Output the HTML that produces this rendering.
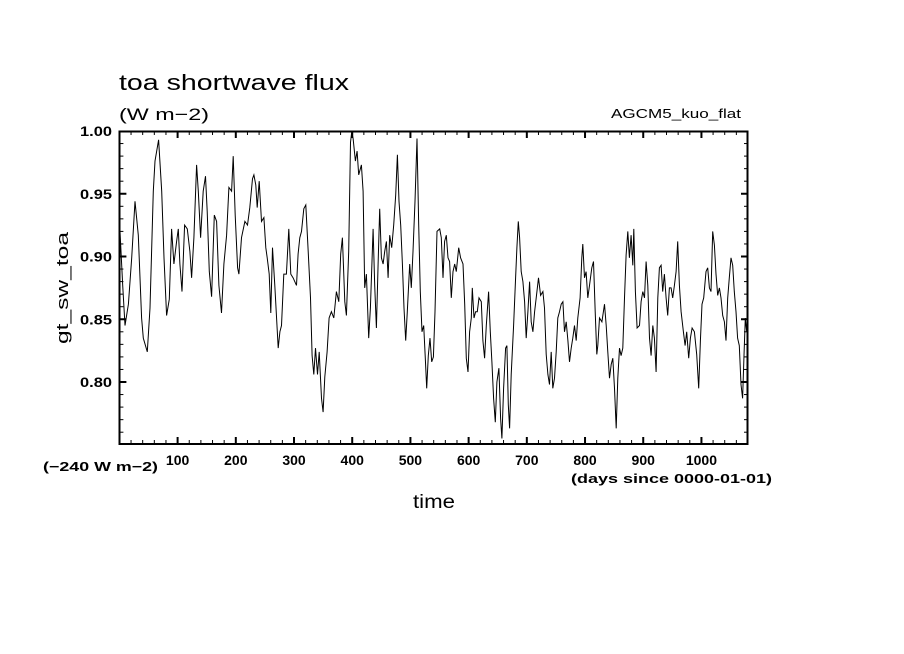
<!DOCTYPE html>
<html><head><meta charset="utf-8"><style>
html,body{margin:0;padding:0;background:#fff;}
svg{display:block;font-family:"Liberation Sans",sans-serif;}
</style></head><body>
<svg id="chart" width="904" height="654" viewBox="0 0 904 654" xmlns="http://www.w3.org/2000/svg">
<rect x="0" y="0" width="904" height="654" fill="#fff"/>
<text x="119" y="90" font-size="22" fill="#000" textLength="230" lengthAdjust="spacingAndGlyphs">toa shortwave flux</text>
<text x="119" y="120" font-size="17" fill="#000" textLength="90" lengthAdjust="spacingAndGlyphs">(W m−2)</text>
<text x="611" y="118" font-size="13" fill="#000" textLength="130" lengthAdjust="spacingAndGlyphs">AGCM5_kuo_flat</text>
<text transform="translate(68,288) rotate(-90)" font-size="17" text-anchor="middle" fill="#000" textLength="112" lengthAdjust="spacingAndGlyphs">gt_sw_toa</text>
<text x="43" y="471" font-size="13" font-weight="bold" fill="#000" textLength="115" lengthAdjust="spacingAndGlyphs">(−240 W m−2)</text>
<text x="571" y="483" font-size="13" font-weight="bold" fill="#000" textLength="201" lengthAdjust="spacingAndGlyphs">(days since 0000-01-01)</text>
<text x="413" y="508" font-size="19" fill="#000" textLength="42" lengthAdjust="spacingAndGlyphs">time</text>
<g id="ticks"></g>
<path id="series" fill="none" stroke="#000" stroke-width="1"/>
<rect x="119.5" y="131.5" width="628" height="312.5" fill="none" stroke="#000" stroke-width="2"/>
</svg>
<script>
const days = [1,5.6,9.6,15.4,21.1,26.8,32.5,38.2,41.1,48,52.5,58.3,61.1,67.4,72.6,76.6,81.1,85.7,89.7,93.7,98.3,101.2,104,107.5,112,116.6,121.2,124,128,132.6,135.5,139.5,144,148,150.9,154.4,158.4,163,167,171,175.5,179.5,184.1,188.1,192.7,195.5,199,203,205.3,209.8,215.6,220.1,224.1,228.7,231,234.4,236.7,240.2,244.2,248.2,251.6,253.9,257.3,260.2,263,267,272.8,275.7,278.5,282.5,287,291,294.5,298.5,304.3,307.1,310,312.8,316.8,320.3,324.3,328.3,331.1,334,336.9,340.3,343.2,347.2,350,352.9,356.9,360.3,364.3,368.3,372.9,376.9,380.3,383.2,387.2,390,394,397,399.2,401.5,405.5,408.4,411.2,415.8,418.7,421.5,424.4,428.4,431.2,435.8,438.7,441.5,444.4,447.3,450.1,453,455.8,458.7,461.6,464.4,467.9,471.3,474.7,477.6,480.4,483.3,486.2,489,491.9,494.7,498.7,501.6,504.5,507.9,511.3,514.2,517,519.9,522.8,525.6,527.9,530.8,533.6,536.5,539.4,542.2,545.6,550.3,553,556,558.8,561.7,564.6,567.4,570.3,573.1,576,578.9,582.9,586.3,590.3,593.2,596,598.9,601.7,604.6,606.3,609.2,612,614.9,617.8,621.8,624.6,627.5,630.3,634.3,637.2,640,642.9,645.8,648.6,652,654.9,657.2,660.1,663.5,665.8,668.1,670.4,673.2,677.2,680.7,683,685.3,687.5,690.4,693.3,696.1,699,701.8,704.7,707.6,710.4,713.3,716.1,720.1,723.6,727.6,730.4,733.3,736.2,739,741.9,744.7,747.6,750.5,753.3,756.2,759,761.9,764.8,767.6,770.5,773.3,776.2,779,781.9,784.8,787.6,791.6,794.5,796.2,799.1,801.9,804.8,807.7,811.7,814.5,817.4,820.2,822,824.9,828.9,833.4,836.3,839.2,842,844.9,847.7,850.6,853.5,856.3,859.2,862,864.9,867.8,870.6,873.5,876.3,879.2,882.1,883.8,886.6,889.5,893.5,896.4,899.2,902.1,905,907.8,910.7,913.5,916.4,919.2,922.1,925,927.8,930.7,933.5,936.4,939.3,942.1,945,947.8,950.7,953.6,956.4,959.3,962.1,965,969,971.9,974.7,978.2,981,983.9,987.9,991.9,995.3,998.2,1001,1003.9,1007.9,1010.8,1013.6,1016.5,1019.3,1022.2,1025.1,1027.9,1030.8,1033.6,1036.5,1039.4,1042.2,1045.1,1047.9,1050.8,1053.7,1056.5,1059.4,1062.2,1065.1,1068,1070.8,1073.1,1075.4,1077.7,1079];
const flux = [0.920,0.877,0.845,0.862,0.899,0.944,0.917,0.851,0.835,0.824,0.859,0.952,0.976,0.993,0.952,0.899,0.853,0.866,0.922,0.894,0.912,0.922,0.894,0.872,0.925,0.922,0.904,0.883,0.915,0.973,0.952,0.915,0.952,0.964,0.936,0.888,0.868,0.933,0.928,0.877,0.855,0.894,0.917,0.955,0.952,0.980,0.933,0.891,0.886,0.915,0.928,0.925,0.939,0.962,0.965,0.957,0.939,0.960,0.928,0.931,0.907,0.899,0.886,0.855,0.907,0.877,0.827,0.840,0.845,0.886,0.886,0.922,0.886,0.883,0.877,0.902,0.915,0.920,0.938,0.941,0.904,0.867,0.821,0.806,0.827,0.806,0.824,0.787,0.776,0.804,0.824,0.851,0.856,0.851,0.872,0.864,0.902,0.915,0.864,0.853,0.904,0.991,0.999,0.994,0.976,0.984,0.965,0.973,0.952,0.875,0.886,0.835,0.859,0.922,0.877,0.843,0.894,0.938,0.899,0.894,0.904,0.912,0.883,0.917,0.907,0.925,0.949,0.981,0.944,0.925,0.894,0.859,0.833,0.856,0.894,0.875,0.904,0.944,0.994,0.925,0.872,0.840,0.845,0.819,0.795,0.821,0.835,0.816,0.820,0.856,0.920,0.922,0.915,0.883,0.912,0.917,0.899,0.896,0.867,0.888,0.894,0.888,0.907,0.899,0.894,0.862,0.819,0.808,0.840,0.851,0.875,0.851,0.856,0.856,0.867,0.864,0.833,0.819,0.845,0.872,0.840,0.816,0.787,0.768,0.800,0.811,0.771,0.755,0.795,0.827,0.829,0.782,0.763,0.806,0.845,0.883,0.907,0.928,0.915,0.888,0.880,0.864,0.835,0.856,0.880,0.848,0.840,0.856,0.867,0.883,0.869,0.872,0.859,0.822,0.806,0.798,0.824,0.795,0.803,0.824,0.851,0.856,0.862,0.864,0.840,0.848,0.833,0.816,0.827,0.835,0.845,0.833,0.851,0.867,0.899,0.910,0.883,0.888,0.867,0.877,0.891,0.896,0.856,0.822,0.829,0.851,0.848,0.862,0.845,0.824,0.803,0.814,0.819,0.795,0.763,0.803,0.827,0.821,0.827,0.867,0.901,0.920,0.899,0.917,0.893,0.922,0.872,0.843,0.845,0.864,0.872,0.867,0.896,0.877,0.835,0.821,0.845,0.835,0.808,0.867,0.891,0.893,0.872,0.886,0.867,0.853,0.875,0.875,0.867,0.877,0.888,0.912,0.877,0.856,0.840,0.829,0.840,0.819,0.835,0.843,0.840,0.822,0.795,0.833,0.862,0.867,0.888,0.891,0.875,0.872,0.920,0.909,0.886,0.869,0.875,0.867,0.853,0.848,0.833,0.867,0.883,0.899,0.893,0.872,0.856,0.835,0.829,0.798,0.787,0.821,0.851,0.840,0.848];
const xTickLabels = ["100","200","300","400","500","600","700","800","900","1000"];
const xTickValues = [100,200,300,400,500,600,700,800,900,1000];
const yTickLabels = ["0.80","0.85","0.90","0.95","1.00"];
const yTickValues = [0.80,0.85,0.90,0.95,1.00];

const X0=119.4, X1=748, Y0=444, Y1=131;
const xMin=0, xMax=1080, yMin=0.7506, yMax=1.00;
function xs(d){return X0+(d-xMin)/(xMax-xMin)*(X1-X0);}
function ys(v){return Y0-(v-yMin)/(yMax-yMin)*(Y0-Y1);}
const NS="http://www.w3.org/2000/svg";
const svg=document.getElementById('chart');
const tg=document.getElementById('ticks');
function line(x1,y1,x2,y2,w,name){
  const l=document.createElementNS(NS,'line');
  l.setAttribute('x1',x1);l.setAttribute('y1',y1);l.setAttribute('x2',x2);l.setAttribute('y2',y2);
  l.setAttribute('stroke','#000');l.setAttribute('stroke-width',w);
  
  
  tg.appendChild(l);
}
for(let d=20; d<xMax; d+=20){
  const x=xs(d), major=(d%100===0);
  const L=major?7:4, w=major?2:1;
  line(x,Y0,x,Y0-L,w,'x-tick');
  line(x,Y1,x,Y1+L,w,'x-tick-top');
}
for(let k=76; k<100; k++){
  const v=k/100, y=ys(v), major=(k%5===0);
  const L=major?7:4, w=major?2:1;
  line(X0,y,X0+L,y,w,'y-tick');
  line(X1,y,X1-L,y,w,'y-tick-right');
}
xTickValues.forEach((d,i)=>{
  const t=document.createElementNS(NS,'text');
  t.setAttribute('x',xs(d));t.setAttribute('y',465);
  t.setAttribute('text-anchor','middle');t.setAttribute('font-size','14');t.setAttribute('font-weight','bold');
  
  
  t.textContent=xTickLabels[i];
  svg.appendChild(t);
});
yTickValues.forEach((v,i)=>{
  const t=document.createElementNS(NS,'text');
  t.setAttribute('x',80);t.setAttribute('y',ys(v)+5);
  t.setAttribute('font-size','14');t.setAttribute('font-weight','bold');
  t.setAttribute('textLength','32');t.setAttribute('lengthAdjust','spacingAndGlyphs');
  
  
  t.textContent=yTickLabels[i];
  svg.appendChild(t);
});
let dstr='';
days.forEach((d,i)=>{
  let y=ys(flux[i]); y=Math.max(Y1,Math.min(Y0,y));
  dstr+=(i?'L':'M')+xs(d).toFixed(1)+' '+y.toFixed(1);
});
document.getElementById('series').setAttribute('d',dstr);
</script>
</body></html>
